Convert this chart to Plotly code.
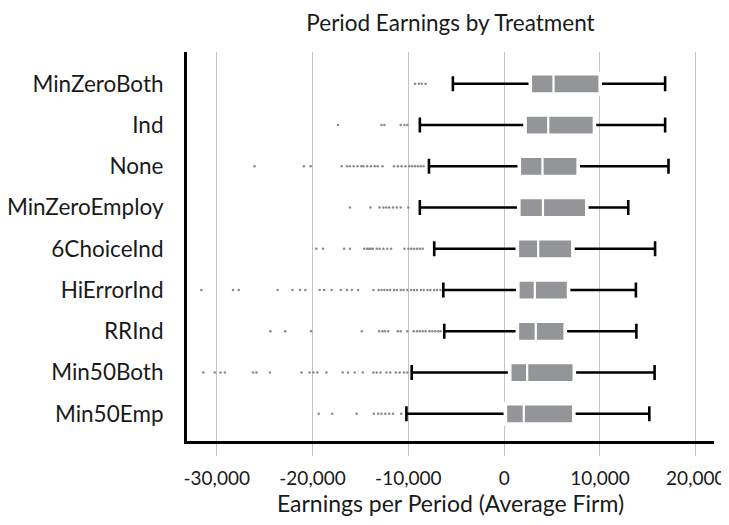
import plotly.graph_objects as go

# treatments, top to bottom
treatments = ["MinZeroBoth", "Ind", "None", "MinZeroEmploy", "6ChoiceInd",
              "HiErrorInd", "RRInd", "Min50Both", "Min50Emp"]

# box statistics (earnings per period)
lower_fence = [-5350, -8800, -7850, -8800, -7300, -6350, -6250, -9650, -10200]
q1 = [2800, 2250, 1650, 1600, 1450, 1500, 1450, 650, 200]
median = [5150, 4600, 4000, 4050, 3550, 3200, 3300, 2400, 2050]
q3 = [9950, 9350, 7650, 8550, 7100, 6650, 6300, 7250, 7200]
upper_fence = [16800, 16800, 17150, 12950, 15750, 13750, 13800, 15700, 15150]

# outliers per treatment
out_minzeroboth = [-9300, -8900, -8600, -8200]
out_ind = [-17350, -12800, -12500, -10800, -10400, -10100]
out_none = [-26050, -20900, -20200, -16950, -16400, -16100, -15700, -15300,
            -14900, -14700, -14300, -13900, -13500, -13200, -12700, -11500,
            -11100, -10700, -10300, -9900, -9600, -9300, -9000, -8700, -8400]
out_minzeroemploy = [-16100, -13950, -13000, -12600, -12300, -12000, -11600,
                     -11200, -10800, -10000]
out_6choiceind = [-19600, -18900, -16700, -16100, -14600, -14300, -14100,
                  -13900, -13700, -13300, -13000, -12600, -12200, -11800,
                  -10400, -10000, -9700, -9400, -9100, -8800, -8500]
out_hierrorind = [-31600, -28300, -27700, -23650, -22100, -21300, -20750,
                  -19250, -18800, -18000, -17050, -16400, -15900, -15250,
                  -13650, -13100, -12800, -12500, -12200, -11900, -11500,
                  -11200, -10800, -10500, -10100, -9700, -9400, -9100, -8700,
                  -8400, -8000, -7700, -7300, -7000, -6650]
out_rrind = [-24400, -22850, -20150, -14850, -13050, -12700, -12450, -12100,
             -11100, -10800, -10100, -9450, -9100, -8800, -8500, -8200, -7800,
             -7500, -7200, -6900, -6650]
out_min50both = [-31400, -30200, -29600, -29150, -26200, -25850, -24450,
                 -21150, -20300, -19900, -19500, -18550, -16850, -16300,
                 -15600, -14750, -13650, -13300, -12900, -12300, -11900,
                 -11300, -10900, -10450, -10100]
out_min50emp = [-19350, -17950, -15400, -13600, -13150, -12800, -12400,
                -12000, -11600, -10750]

outliers = [out_minzeroboth, out_ind, out_none, out_minzeroemploy,
            out_6choiceind, out_hierrorind, out_rrind, out_min50both,
            out_min50emp]

x_ticks = [-30000, -20000, -10000, 0, 10000, 20000]
x_ticktext = [f"{v:,}" for v in x_ticks]  # plain hyphen for negatives

FONT = "Lato, 'Open Sans', sans-serif"
BOX_GRAY = "#939598"
GRID = "#c4c4c4"

# the page body keeps its default 8px margin, so the figure is 8px smaller
W, H = 721, 517

fig = go.Figure()

# whiskers with caps (black)
fig.add_trace(go.Box(
    y=treatments, q1=q1, median=median, q3=q3,
    lowerfence=lower_fence, upperfence=upper_fence,
    orientation="h", width=0.46, whiskerwidth=0.8,
    fillcolor="rgba(0,0,0,0)", line=dict(color="black", width=2.6),
    boxpoints=False, hoverinfo="skip",
))

# white mask hiding the black box outline, leaves a gap before whiskers
fig.add_trace(go.Box(
    y=treatments, q1=q1, median=median, q3=q3,
    lowerfence=q1, upperfence=q3,
    orientation="h", width=0.46, whiskerwidth=0,
    fillcolor="white", line=dict(color="white", width=5),
    boxpoints=False, hoverinfo="skip",
))

# gray box with white median gap
fig.add_trace(go.Box(
    y=treatments, q1=q1, median=median, q3=q3,
    lowerfence=q1, upperfence=q3,
    orientation="h", width=0.46, whiskerwidth=0,
    fillcolor=BOX_GRAY, line=dict(color="white", width=2.2),
    boxpoints=False,
))

# outlier dots
xs, ys = [], []
for name, pts in zip(treatments, outliers):
    xs += pts
    ys += [name] * len(pts)
fig.add_trace(go.Scatter(
    x=xs, y=ys, mode="markers",
    marker=dict(size=2.5, color="#8a8a8a"),
))

fig.update_layout(
    width=W, height=H,
    margin=dict(l=179, r=15, t=44, b=84),
    paper_bgcolor="white", plot_bgcolor="white",
    showlegend=False,
    font=dict(family=FONT, size=21, color="#1a1a1a"),
    title=dict(text="Period Earnings by Treatment", x=0.5, xanchor="center",
               xref="paper", y=1 - 15 / H, yanchor="middle",
               font=dict(size=22.5), automargin=False),
    boxmode="overlay",
)

fig.update_xaxes(
    range=[-33100, 21900], tickvals=x_ticks, ticktext=x_ticktext,
    showgrid=True, gridcolor=GRID, gridwidth=1, zeroline=False,
    showline=True, linecolor="black", linewidth=3,
    ticks="outside", ticklen=12, tickcolor=GRID, tickwidth=1,
    tickfont=dict(size=19), ticklabelstandoff=6, automargin=False,
    title=dict(text="Earnings per Period (Average Firm)", standoff=9,
               font=dict(size=23)),
)

fig.update_yaxes(
    type="category", categoryorder="array", categoryarray=treatments,
    range=[8.66, -0.77], showgrid=False, zeroline=False,
    showline=True, linecolor="black", linewidth=3,
    ticks="", ticklabelstandoff=16, tickfont=dict(size=22.5),
    automargin=False,
)

fig.write_html("out.html")
